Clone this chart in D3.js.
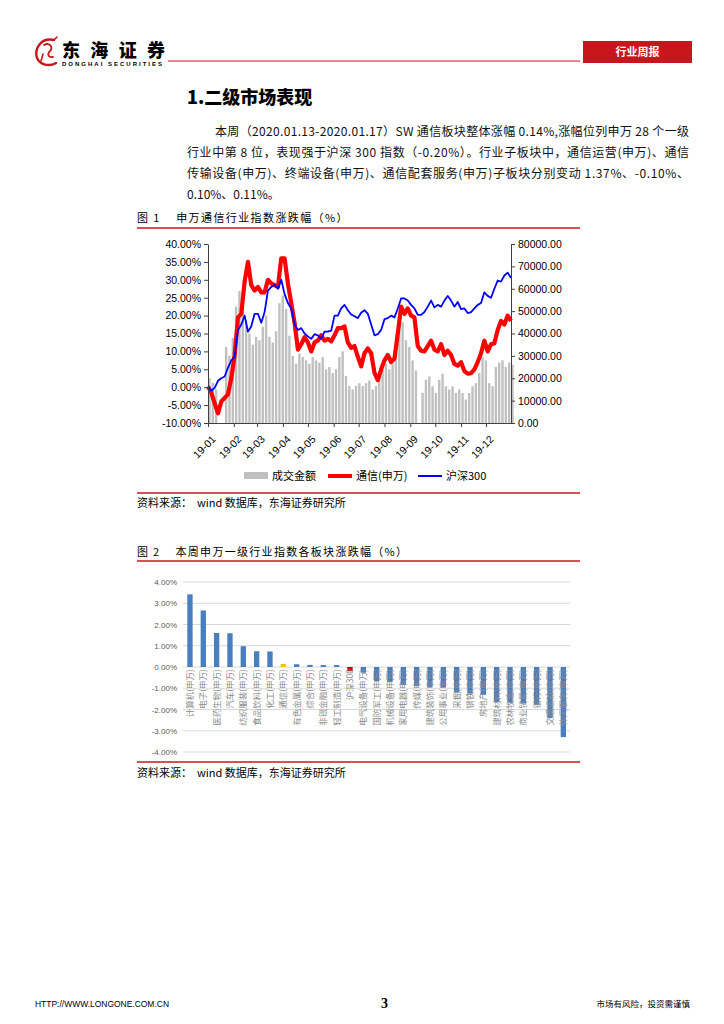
<!DOCTYPE html>
<html>
<head>
<meta charset="utf-8">
<script src="https://cdn.jsdelivr.net/npm/d3@7"></script>
<style>
  body { margin: 0; background: #fff; }
</style>
</head>
<body>
<svg id="page"></svg>
<script>
// ---- chart 1 data: sampled every 4 days from 2019-01-01 ----
const startDay = new Date(2019, 0, 1);
const stepDays = 4;
const telecom = [0.2, -1.5, -4.5, -7.3, -4.0, -3.0, -2.0, 2.5, 9.0, 19.5, 20.5, 29.5, 35.0, 28.5, 27.0, 28.0,
  26.5, 26.5, 30.0, 29.0, 28.5, 28.0, 36.0, 36.0, 29.0, 23.5, 18.0, 10.5, 12.0, 14.0, 12.5, 10.0,
  12.5, 13.0, 14.5, 13.0, 13.5, 12.8, 14.5, 16.5, 16.5, 17.0, 12.5, 11.0, 11.5, 8.5, 5.8, 9.5,
  10.8, 9.5, 4.0, 2.0, 5.0, 7.5, 9.0, 7.0, 8.0, 15.0, 22.5, 20.5, 22.0, 20.0, 19.5, 11.5,
  10.2, 10.0, 11.5, 13.0, 10.5, 10.0, 12.0, 9.0, 10.2, 9.0, 6.5, 6.0, 7.0, 4.5, 3.8, 3.9,
  5.0, 7.0, 9.5, 13.0, 10.0, 12.0, 12.3, 16.0, 18.5, 17.5, 20.0, 18.5];
const hs300 = [0.2, -1.0, -0.2, 1.8, 2.5, 3.0, 5.5, 7.5, 8.5, 16.0, 17.5, 20.0, 15.5, 17.0, 20.5, 20.5,
  18.0, 21.0, 27.0, 28.0, 28.6, 27.5, 30.0, 26.0, 23.5, 22.0, 17.5, 16.0, 16.5, 15.0, 14.2, 13.5,
  14.8, 14.5, 13.5, 15.5, 15.5, 15.8, 20.0, 20.0, 22.0, 23.0, 21.5, 20.3, 19.8, 19.3, 20.8, 21.5,
  20.5, 17.5, 14.5, 14.8, 16.0, 19.0, 19.3, 20.0, 19.5, 22.0, 24.8, 24.8, 24.2, 23.0, 22.0, 20.2,
  20.2, 21.0, 22.5, 24.2, 22.3, 23.0, 22.5, 24.2, 25.5, 24.2, 22.5, 23.8, 21.8, 22.0, 20.7, 21.0,
  22.0, 23.0, 23.5, 26.5, 25.5, 25.0, 27.5, 29.8, 29.5, 31.2, 32.0, 30.5];
const turnover = [20000, 18000, 15000, 0, 0, 34000, 30000, 38000, 52000, 59000, 54000, 46000, 40000, 35000, 38500, 37000,
  43000, 48000, 38500, 36000, 41000, 53500, 57000, 51000, 39000, 30000, 26500, 31000, 29500, 28000, 26500, 29500,
  28000, 27000, 29500, 24000, 25000, 22300, 24000, 29500, 32000, 21000, 16500, 15000, 16500, 17800, 16500, 17800,
  19000, 15000, 16500, 22000, 25000, 26500, 24000, 26500, 30000, 48000, 45000, 37000, 34000, 28000, 23500, 0,
  13500, 19300, 20800, 16400, 13400, 19300, 22000, 16400, 15000, 16400, 13400, 15000, 13400, 10500, 13400, 16400,
  17800, 22300, 29500, 28000, 17800, 16400, 25000, 27000, 28000, 25000, 27000, 26000];
const leftTicks = [-10, -5, 0, 5, 10, 15, 20, 25, 30, 35, 40];
const rightTicks = [0, 10000, 20000, 30000, 40000, 50000, 60000, 70000, 80000];

// ---- chart 2 data ----
const industries = ["计算机(申万)", "电子(申万)", "医药生物(申万)", "汽车(申万)", "纺织服装(申万)", "食品饮料(申万)",
  "化工(申万)", "通信(申万)", "有色金属(申万)", "综合(申万)", "非银金融(申万)", "轻工制造(申万)", "沪深300",
  "电气设备(申万)", "国防军工(申万)", "机械设备(申万)", "家用电器(申万)", "传媒(申万)", "建筑装饰(申万)",
  "公用事业(申万)", "采掘(申万)", "钢铁(申万)", "房地产(申万)", "建筑材料(申万)", "农林牧渔(申万)",
  "商业贸易(申万)", "银行(申万)", "交通运输(申万)", "休闲服务(申万)"];
const weekChange = [3.42, 2.66, 1.60, 1.59, 0.98, 0.74, 0.73, 0.14, 0.13, 0.10, 0.09, 0.09, -0.20,
  -0.27, -0.66, -0.71, -0.85, -0.90, -0.94, -0.96, -1.20, -1.25, -1.31, -1.65, -1.68, -1.72, -1.78, -2.40, -3.30];
const pctTicks = [-4, -3, -2, -1, 0, 1, 2, 3, 4];

const paragraph = [
  "本周（2020.01.13-2020.01.17）SW 通信板块整体涨幅 0.14%,涨幅位列申万 28 个一级",
  "行业中第 8 位，表现强于沪深 300 指数（-0.20%）。行业子板块中，通信运营(申万)、通信",
  "传输设备(申万)、终端设备(申万)、通信配套服务(申万)子板块分别变动 1.37%、-0.10%、",
  "0.10%、0.11%。"
];

const cjk = "'Noto Sans CJK SC', 'Noto Sans', sans-serif";
const arial = "'Liberation Sans', Arial, sans-serif";
const red = "#c8161d";

const svg = d3.select("#page").attr("width", 724).attr("height", 1024);
svg.append("rect").attr("width", 724).attr("height", 1024).attr("fill", "#fff");

// ---- header ----
const logo = svg.append("g").attr("transform", "translate(48,52)")
  .attr("fill", "none").attr("stroke", red).attr("stroke-linecap", "round");
logo.append("path").attr("d", "M6,-12 C-7,-15 -14,-3 -11,6 C-8,13 1,15 8,11").attr("stroke-width", 2.4);
logo.append("path").attr("d", "M-4,-7 C1,-10 6,-5 2,-1 C-1,2 0,6 5,5").attr("stroke-width", 1.8);
logo.append("path").attr("d", "M-5,2 L-7,9 M6,-12 L9,-15").attr("stroke-width", 1.6);

svg.append("text").attr("x", 62).attr("y", 57).text("东海证券")
  .attr("font-family", cjk).attr("font-weight", 900).attr("font-size", 18)
  .attr("textLength", 103).attr("lengthAdjust", "spacing");
svg.append("text").attr("x", 62).attr("y", 65.5).text("DONGHAI SECURITIES")
  .attr("font-family", arial).attr("font-weight", 700).attr("font-size", 6)
  .attr("textLength", 100).attr("lengthAdjust", "spacing");
svg.append("line").attr("x1", 168).attr("x2", 580).attr("y1", 61).attr("y2", 61)
  .attr("stroke", red).attr("stroke-width", 1.2);
svg.append("rect").attr("x", 583).attr("y", 41).attr("width", 109).attr("height", 22).attr("fill", red);
svg.append("text").attr("x", 637.5).attr("y", 56).attr("text-anchor", "middle").text("行业周报")
  .attr("font-family", cjk).attr("font-weight", 700).attr("font-size", 11).attr("fill", "#fff");

// ---- section title and paragraph ----
svg.append("text").attr("x", 187).attr("y", 104).text("1.二级市场表现")
  .attr("font-family", cjk).attr("font-weight", 900).attr("font-size", 18);

paragraph.forEach((line, i) => {
  const t = svg.append("text")
    .attr("x", i === 0 ? 215 : 187)
    .attr("y", 136 + i * 21)
    .attr("font-family", cjk).attr("font-size", 12).attr("fill", "#111")
    .text(line);
  if (i < 3) t.attr("textLength", i === 0 ? 474 : 502).attr("lengthAdjust", "spacing");
});

// ---- chart 1 ----
svg.append("text").attr("x", 137).attr("y", 222).text("图 1    申万通信行业指数涨跌幅（%）")
  .attr("font-family", cjk).attr("font-size", 11).attr("letter-spacing", 1.4).attr("xml:space", "preserve");
svg.append("line").attr("x1", 137).attr("x2", 580).attr("y1", 228).attr("y2", 228)
  .attr("stroke", red).attr("stroke-width", 1.5);

const dates = telecom.map((_, i) => d3.timeDay.offset(startDay, i * stepDays));
const x1 = d3.scaleTime().domain([startDay, new Date(2019, 11, 31)]).range([208, 511]);
const yL = d3.scaleLinear().domain([-10, 40]).range([423, 244]);
const yR = d3.scaleLinear().domain([0, 80000]).range([423, 244]);

const c1 = svg.append("g");
const barW = (x1(dates[1]) - x1(dates[0])) * 0.72;
c1.append("g").selectAll("rect").data(turnover).join("rect")
  .attr("x", (d, i) => x1(dates[i]) - barW / 2 + 1.5)
  .attr("y", d => yR(d))
  .attr("width", barW)
  .attr("height", d => yR(0) - yR(d))
  .attr("fill", "#c0c0c0");

const line = d3.line().x((d, i) => x1(dates[i])).y(d => yL(d));
c1.append("path").datum(telecom).attr("d", line).attr("fill", "none")
  .attr("stroke", "#ff0000").attr("stroke-width", 4.2).attr("stroke-linejoin", "round");
c1.append("path").datum(hs300).attr("d", line).attr("fill", "none")
  .attr("stroke", "#0000ff").attr("stroke-width", 1.8).attr("stroke-linejoin", "round");

const axL = c1.append("g").attr("transform", "translate(208,0)")
  .call(d3.axisLeft(yL).tickValues(leftTicks).tickFormat(d => d.toFixed(2) + "%").tickSize(4).tickSizeOuter(0));
const axR = c1.append("g").attr("transform", "translate(511,0)")
  .call(d3.axisRight(yR).tickValues(rightTicks).tickFormat(d3.format(".2f")).tickSize(4).tickSizeOuter(0));
const axB = c1.append("g").attr("transform", "translate(0,423)")
  .call(d3.axisBottom(x1).tickValues(d3.timeMonth.range(startDay, new Date(2019, 11, 31)))
    .tickFormat(d3.timeFormat("%y-%m")).tickSize(4).tickSizeOuter(0));
axB.selectAll("text").attr("text-anchor", "end").attr("dx", 0).attr("dy", 0)
  .attr("transform", "translate(3,12) rotate(-45)");
[axL, axR, axB].forEach(a => {
  a.selectAll("path,line").attr("stroke", "#404040");
  a.selectAll("text").attr("font-family", arial).attr("font-size", 10.5).attr("fill", "#000");
});

// legend
const lg = svg.append("g").attr("font-family", cjk).attr("font-size", 11);
lg.append("rect").attr("x", 244).attr("y", 472).attr("width", 24).attr("height", 7).attr("fill", "#c0c0c0");
lg.append("text").attr("x", 272).attr("y", 480).text("成交金额");
lg.append("line").attr("x1", 328).attr("x2", 352).attr("y1", 476).attr("y2", 476).attr("stroke", "#ff0000").attr("stroke-width", 4);
lg.append("text").attr("x", 356).attr("y", 480).text("通信(申万)");
lg.append("line").attr("x1", 418).attr("x2", 442).attr("y1", 476).attr("y2", 476).attr("stroke", "#0000ff").attr("stroke-width", 2);
lg.append("text").attr("x", 446).attr("y", 480).text("沪深300");

svg.append("line").attr("x1", 137).attr("x2", 580).attr("y1", 493).attr("y2", 493)
  .attr("stroke", red).attr("stroke-width", 1.5);
svg.append("text").attr("x", 137).attr("y", 507).text("资料来源：  wind 数据库，东海证券研究所")
  .attr("font-family", cjk).attr("font-size", 11).attr("xml:space", "preserve");

// ---- chart 2 ----
svg.append("text").attr("x", 137).attr("y", 556).text("图 2    本周申万一级行业指数各板块涨跌幅（%）")
  .attr("font-family", cjk).attr("font-size", 11).attr("letter-spacing", 1.3).attr("xml:space", "preserve");
svg.append("line").attr("x1", 137).attr("x2", 580).attr("y1", 561).attr("y2", 561)
  .attr("stroke", red).attr("stroke-width", 1.5);

const x2 = d3.scaleBand().domain(industries).range([183.3, 570]).paddingInner(0.6).paddingOuter(0.3);
const y2 = d3.scaleLinear().domain([-4, 4]).range([752, 582]);
const c2 = svg.append("g");
c2.append("g").selectAll("line").data(pctTicks).join("line")
  .attr("x1", 183).attr("x2", 570).attr("y1", d => y2(d)).attr("y2", d => y2(d))
  .attr("stroke", "#d9d9d9").attr("stroke-width", 1);
c2.append("g").selectAll("text").data(pctTicks).join("text")
  .attr("x", 177).attr("y", d => y2(d) + 3).attr("text-anchor", "end")
  .attr("font-family", arial).attr("font-size", 8).attr("fill", "#595959")
  .text(d => d.toFixed(2) + "%");
c2.append("g").selectAll("rect").data(weekChange).join("rect")
  .attr("x", (d, i) => x2(industries[i]))
  .attr("y", d => y2(Math.max(0, d)))
  .attr("width", x2.bandwidth())
  .attr("height", d => Math.abs(y2(d) - y2(0)))
  .attr("fill", (d, i) => industries[i] === "通信(申万)" ? "#ffc000" : industries[i] === "沪深300" ? "#c00000" : "#4a7ebf");
c2.append("g").selectAll("text").data(industries).join("text")
  .attr("transform", d => `translate(${x2(d) + x2.bandwidth() / 2 + 3},${y2(0) + 2}) rotate(-90)`)
  .attr("text-anchor", "end")
  .attr("font-family", cjk).attr("font-size", 8.5).attr("fill", "#8c8c8c")
  .text(d => d);

svg.append("line").attr("x1", 137).attr("x2", 580).attr("y1", 762).attr("y2", 762)
  .attr("stroke", red).attr("stroke-width", 1.5);
svg.append("text").attr("x", 137).attr("y", 777).text("资料来源：  wind 数据库，东海证券研究所")
  .attr("font-family", cjk).attr("font-size", 11).attr("xml:space", "preserve");

// ---- footer ----
svg.append("text").attr("x", 35).attr("y", 1007).text("HTTP://WWW.LONGONE.COM.CN")
  .attr("font-family", arial).attr("font-size", 9).attr("textLength", 134).attr("lengthAdjust", "spacingAndGlyphs");
svg.append("text").attr("x", 381).attr("y", 1008).text("3")
  .attr("font-family", "'Liberation Serif', serif").attr("font-weight", 700).attr("font-size", 14);
svg.append("text").attr("x", 690).attr("y", 1007).attr("text-anchor", "end").text("市场有风险，投资需谨慎")
  .attr("font-family", cjk).attr("font-size", 8.5);
</script>
</body>
</html>
